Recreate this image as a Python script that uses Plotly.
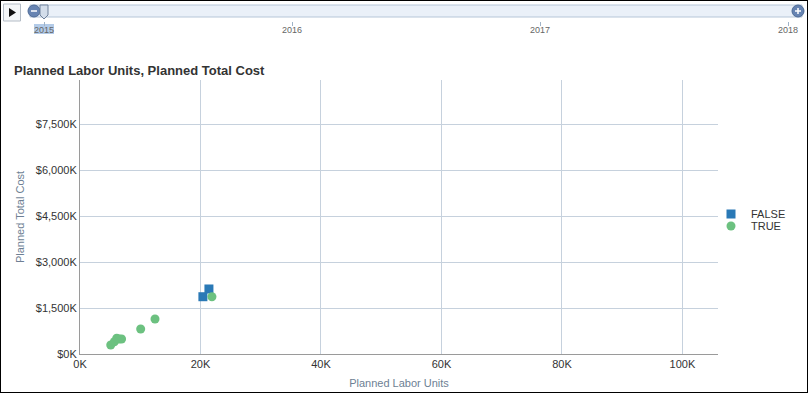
import plotly.graph_objects as go

W, H = 808, 393

# ---- data ----
false_labor = [20400, 21400]
false_cost = [1868000, 2120000]
true_labor = [21900, 12450, 10070, 5100, 5700, 6100, 6500, 6900]
true_cost = [1868000, 1141000, 815000, 293000, 401000, 512000, 489000, 489000]

x_tickvals = [0, 20000, 40000, 60000, 80000, 100000]
x_ticktext = ["0K", "20K", "40K", "60K", "80K", "100K"]
y_tickvals = [0, 1500000, 3000000, 4500000, 6000000, 7500000]
y_ticktext = ["$0K", "$1,500K", "$3,000K", "$4,500K", "$6,000K", "$7,500K"]
years = [2015, 2016, 2017, 2018]
year_text = ["2015", "2016", "2017", "2018"]


def px(x):
    return x / W


def py(y):
    return 1 - y / H


fig = go.Figure()
fig.add_trace(go.Scatter(
    x=false_labor, y=false_cost, mode="markers", name="FALSE", legend="legend",
    marker=dict(symbol="square", size=9, color="#2a79b6"),
))
fig.add_trace(go.Scatter(
    x=true_labor, y=true_cost, mode="markers", name="TRUE", legend="legend2",
    marker=dict(symbol="circle", size=9, color="#6cc180"),
))
# timeline axis (invisible trace just to establish axis)
fig.add_trace(go.Scatter(x=years, y=[0, 0, 0, 0], xaxis="x2", yaxis="y2",
                         mode="markers", marker=dict(opacity=0), showlegend=False,
                         hoverinfo="skip"))

grid = "#c6d1dd"
leg_common = dict(xanchor="left", yanchor="middle", font=dict(size=11, color="#333333"),
                  tracegroupgap=0, itemsizing="trace", bgcolor="rgba(0,0,0,0)",
                  borderwidth=0)
fig.update_layout(
    width=W, height=H,
    margin=dict(l=0, r=0, t=0, b=0, autoexpand=False),
    paper_bgcolor="white", plot_bgcolor="white",
    font=dict(family="Liberation Sans, Arial, sans-serif", size=11, color="#333333"),
    showlegend=True,
    legend=dict(x=px(711), y=py(214), **leg_common),
    legend2=dict(x=px(711), y=py(226), **leg_common),
    xaxis=dict(domain=[px(80), px(718)], range=[0, 105900],
               tickvals=x_tickvals, ticktext=x_ticktext, automargin=False,
               showgrid=True, gridcolor=grid, gridwidth=1,
               showline=True, linecolor="#9a9a9a", linewidth=1,
               zeroline=False, ticks="", anchor="y",
               title=dict(text="Planned Labor Units", font=dict(size=11, color="#6e7f94"), standoff=10),
               tickfont=dict(size=11, color="#333333")),
    yaxis=dict(domain=[py(354), py(80)], range=[0, 8935000],
               tickvals=y_tickvals, ticktext=y_ticktext, automargin=False,
               showgrid=True, gridcolor=grid, gridwidth=1,
               showline=True, linecolor="#9a9a9a", linewidth=1,
               zeroline=False, ticks="", anchor="x",
               title=dict(text="Planned Total Cost", font=dict(size=11, color="#6e7f94"), standoff=8),
               tickfont=dict(size=11, color="#333333")),
    xaxis2=dict(domain=[px(44), px(788)], range=[2015, 2018], anchor="y2", automargin=False,
                tickvals=years, ticktext=year_text, ticks="outside", ticklen=4,
                ticklabelstandoff=-4,
                tickcolor="#9fb3c8", showgrid=False, zeroline=False, showline=False,
                tickfont=dict(size=9, color="#666666")),
    yaxis2=dict(domain=[py(21), py(17)], visible=False, range=[0, 1]),
    title=dict(text="<b>Planned Labor Units, Planned Total Cost</b>",
               x=px(14), xanchor="left", y=py(70), yanchor="middle",
               font=dict(size=13, color="#333333")),
)

shapes = []
# outer border
shapes.append(dict(type="rect", xref="paper", yref="paper", x0=0, x1=1, y0=0, y1=1,
                   line=dict(color="#000000", width=2), fillcolor="rgba(0,0,0,0)"))
# selected year highlight
shapes.append(dict(type="rect", xref="paper", yref="paper", x0=px(34), x1=px(54), y0=py(34), y1=py(24),
                   line=dict(width=0), fillcolor="#b3cbe8", layer="below"))
# play button
shapes.append(dict(type="rect", xref="paper", yref="paper", x0=px(3.5), x1=px(20.5), y0=py(21), y1=py(4),
                   line=dict(color="#b4bcc6", width=1), fillcolor="#f4f6f8"))
shapes.append(dict(type="path", xref="paper", yref="paper",
                   path=f"M {px(9)} {py(8)} L {px(9)} {py(17)} L {px(16)} {py(12.5)} Z",
                   line=dict(width=0), fillcolor="#111111"))
# track
shapes.append(dict(type="rect", xref="paper", yref="paper", x0=px(30), x1=px(802), y0=py(17), y1=py(5),
                   line=dict(color="#b6c6d8", width=1), fillcolor="#eaf0f8"))
# left minus circle
shapes.append(dict(type="circle", xref="paper", yref="paper", x0=px(28), x1=px(40), y0=py(17), y1=py(5),
                   line=dict(color="#4d6a96", width=1), fillcolor="#6784b2"))
shapes.append(dict(type="line", xref="paper", yref="paper", x0=px(31), x1=px(37), y0=py(11), y1=py(11),
                   line=dict(color="white", width=1.5)))
# handle
shapes.append(dict(type="path", xref="paper", yref="paper",
                   path=f"M {px(40)} {py(5)} L {px(48)} {py(5)} L {px(48)} {py(15)} L {px(44)} {py(19)} L {px(40)} {py(15)} Z",
                   line=dict(color="#6f819b", width=1), fillcolor="#d3ddea"))
# right plus circle
shapes.append(dict(type="circle", xref="paper", yref="paper", x0=px(792), x1=px(804), y0=py(17), y1=py(5),
                   line=dict(color="#4d6a96", width=1), fillcolor="#6784b2"))
shapes.append(dict(type="line", xref="paper", yref="paper", x0=px(795), x1=px(801), y0=py(11), y1=py(11),
                   line=dict(color="white", width=1.5)))
shapes.append(dict(type="line", xref="paper", yref="paper", x0=px(798), x1=px(798), y0=py(8), y1=py(14),
                   line=dict(color="white", width=1.5)))
fig.update_layout(shapes=shapes)

fig.write_html("out.html", config={"displayModeBar": False},
               post_script="document.body.style.margin='0px';document.body.style.overflow='hidden';")
